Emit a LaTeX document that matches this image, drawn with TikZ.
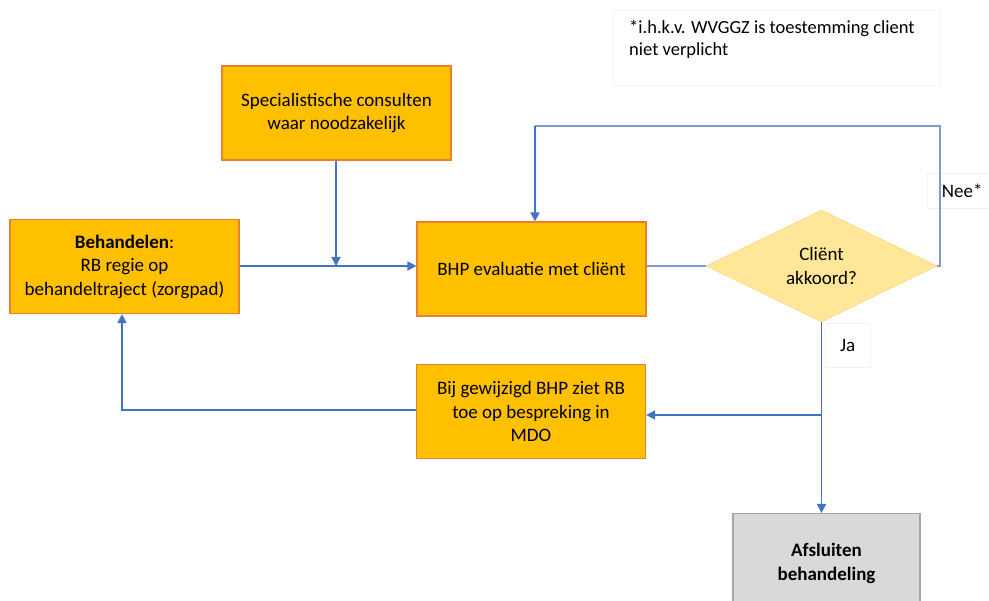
\documentclass[tikz,border=0pt]{standalone}
\usepackage{fontspec}
\setmainfont{Carlito}
\usetikzlibrary{shapes.geometric,arrows.meta}
\definecolor{orfill}{HTML}{FFC000}
\definecolor{ordraw}{HTML}{ED7D31}
\definecolor{blueln}{HTML}{4472C4}
\definecolor{bluelt}{HTML}{7F9CCF}
\definecolor{diafill}{HTML}{FFE699}
\definecolor{grfill}{HTML}{D9D9D9}
\definecolor{grdraw}{HTML}{A5A5A5}
\tikzset{
  txt/.style={font=\fontsize{19}{23.5}\selectfont},
  obox/.style={txt, draw=ordraw, fill=orfill, line width=1.2pt, minimum width=229pt, minimum height=94pt, align=center, inner sep=0pt},
  gbox/.style={txt, draw=grdraw, fill=grfill, line width=1.2pt, minimum width=187pt, minimum height=100pt, align=center, inner sep=0pt},
  dia/.style={txt, diamond, draw=diafill!80!orange, fill=diafill, aspect=2.06, minimum width=231pt, minimum height=112pt, inner sep=0pt, align=center},
  conn/.style={draw=blueln, line width=1.6pt, -{Triangle[length=9pt,width=9pt]}},
  connthin/.style={draw=bluelt, line width=1.2pt},
  lbl/.style={txt, draw=black!5, fill=white, inner sep=0pt}
}
\begin{document}
\begin{tikzpicture}[x=1pt,y=-1pt]
\useasboundingbox (0,0) rectangle (989,601);
\fill[white] (0,0) rectangle (989,601);
% note box
\node[draw=black!4, fill=white, minimum width=327pt, minimum height=75pt, inner sep=0pt, anchor=north west] (note) at (613,10) {};
\node[anchor=north west, align=left, font=\fontsize{18.5}{22.5}\selectfont, inner sep=0pt] (notetxt) at (629,20) {*i.h.k.v. WVGGZ is toestemming client\\niet verplicht};
% boxes
\node[obox] (spec) at (336.5,113) {Specialistische consulten\\waar noodzakelijk};
\node[obox] (beh) at (124.5,266.5) {\textbf{Behandelen}:\\RB regie op\\behandeltraject (zorgpad)};
\node[obox] (bhp) at (531.5,269) {BHP evaluatie met cliënt};
\node[dia] (dia) at (821.5,266) {Cliënt\\akkoord?};
\node[obox] (bij) at (531,411.5) {Bij gewijzigd BHP ziet RB\\toe op bespreking in\\MDO};
\node[gbox, anchor=north] (afs) at (826.5,513) {\textbf{Afsluiten}\\\textbf{behandeling}};
% labels
\node[lbl, minimum width=64pt, minimum height=35pt, anchor=north west] (nee) at (927,173) {\hspace*{6pt}Nee*};
\node[lbl, minimum width=45pt, minimum height=44pt, anchor=north west] (ja) at (825,323) {Ja};
% connectors
\coordinate (j1) at (336,266);
\draw[conn] (beh.east |- j1) -- (bhp.west |- j1);
\draw[conn] (spec.south -| j1) -- (j1);
\draw[connthin] (bhp.east |- dia.west) -- (dia.west);
\coordinate (lt) at (940,126);
\coordinate (lb) at (535,126);
\draw[connthin] (dia.east) -- (dia.east -| lt) -- (lt) -- (lb);
\draw[conn] (lb) -- (bhp.north -| lb);
\coordinate (jb) at (821,415);
\draw[conn] (dia.south) -- (afs.north -| dia.south);
\draw[conn] (jb) -- (bij.east |- jb);
\coordinate (bl) at (122,410);
\draw[conn] (bij.west |- bl) -- (bl) -- (beh.south -| bl);
\end{tikzpicture}
\end{document}
